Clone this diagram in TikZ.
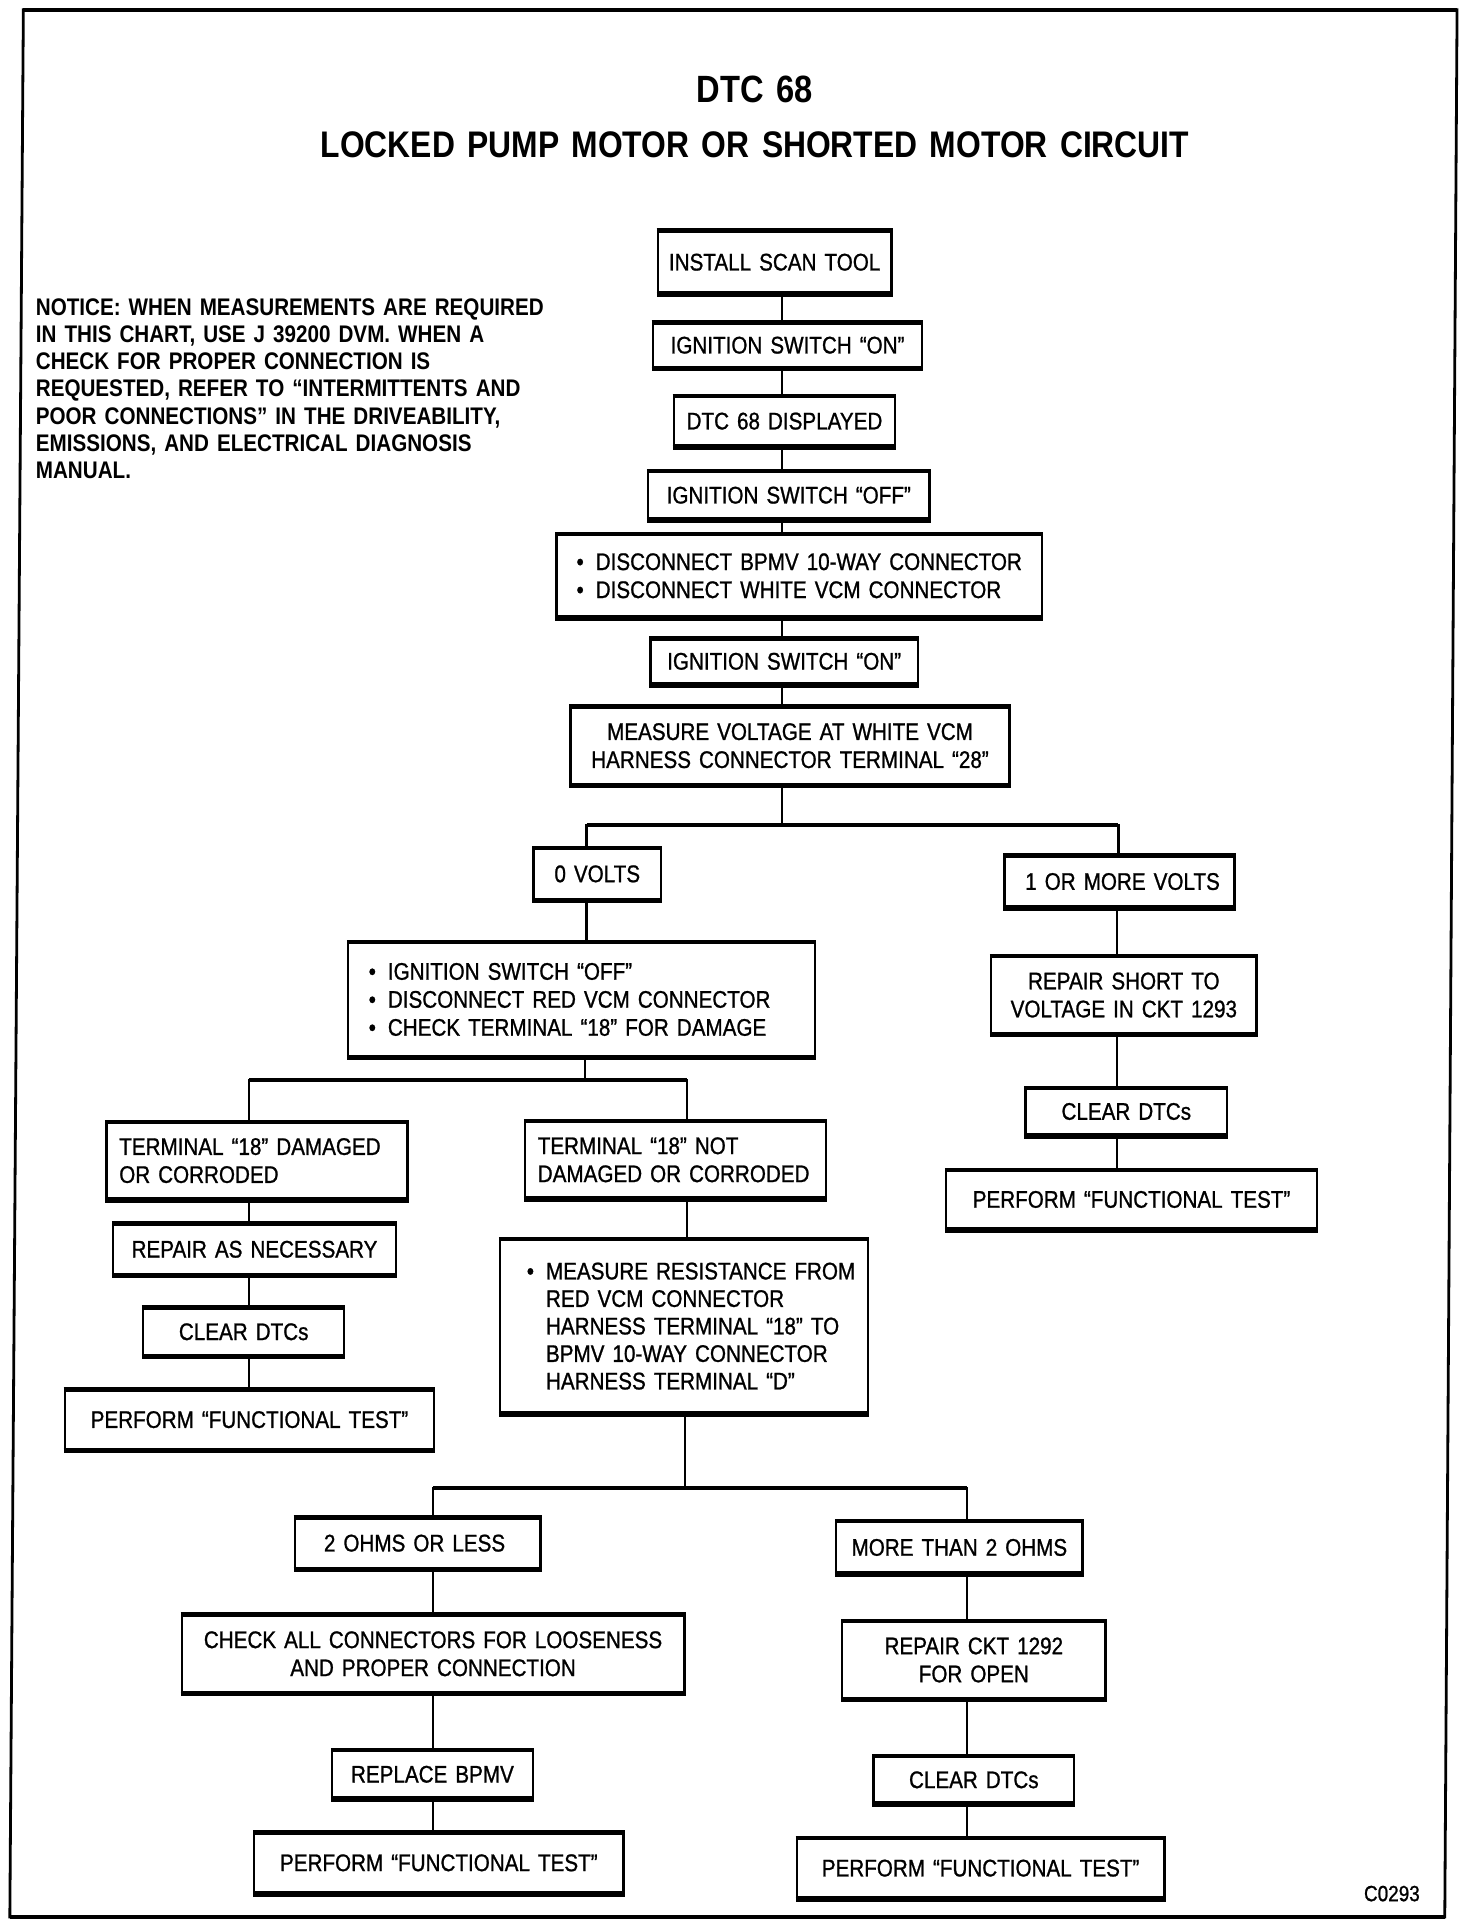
\documentclass[tikz,border=0pt]{standalone}
\usepackage{fontspec}
\setmainfont{Liberation Sans}[FakeStretch=0.86,WordSpace=1.4,UprightFeatures={FakeBold=1}]
\usetikzlibrary{fit}
\newcommand\bl{\makebox[0.8em][l]{•}}
\newcommand\bi{\makebox[0.8em]{}}
\begin{document}
\begin{tikzpicture}[x=1.22974pt, y=-1.22974pt,
  box/.style={draw, line width=2.4pt, inner sep=0pt},
  txt/.style={inner sep=0pt, font=\fontsize{24}{28}\selectfont, align=center},
  ltxt/.style={txt, align=left},
  conn/.style={line width=2.4pt},
  bar/.style={line width=4.4pt},
  bot/.style={line width=4.8pt},
  topl/.style={line width=3.4pt}]
\useasboundingbox (0,0) rectangle (1197,1568);
% frame
\draw[line width=2.8pt, line join=miter] (19,8) -- (1185,8) -- (1175,1559) -- (8,1559) -- cycle;
\draw[line width=4pt] (19,8) -- (1185,8);
\draw[line width=4pt] (1175,1559) -- (8,1559);
% titles
\node[font=\bfseries\fontsize{38}{40}\selectfont, inner sep=0pt] (title1) at (614,72.5) {DTC 68};
\node[font=\bfseries\fontsize{37}{40}\selectfont, inner sep=0pt] (title2) at (614,118) {LOCKED PUMP MOTOR OR SHORTED MOTOR CIRCUIT};
% notice
\node[anchor=north west, inner sep=0pt, align=left, font=\bfseries\fontsize{24}{27.2}\selectfont] (notice) at (29,242.6)
 {NOTICE: WHEN MEASUREMENTS ARE REQUIRED\\
  IN THIS CHART, USE J 39200 DVM. WHEN A\\
  CHECK FOR PROPER CONNECTION IS\\
  REQUESTED, REFER TO “INTERMITTENTS AND\\
  POOR CONNECTIONS” IN THE DRIVEABILITY,\\
  EMISSIONS, AND ELECTRICAL DIAGNOSIS\\
  MANUAL.};
% boxes
\node[box, fit={(535,188.5) (725,238)}] (b1) {};
\node[box, fit={(531,263) (750,298.5)}] (b2) {};
\node[box, fit={(548,323) (728,362)}] (b3) {};
\node[box, fit={(527,384) (756,421.5)}] (b4) {};
\node[box, fit={(452.5,435) (847.5,501.5)}] (b5) {};
\node[box, fit={(529,520) (746.5,555.7)}] (b6) {};
\node[box, fit={(464,575.4) (821,637.5)}] (b7) {};
\node[box, fit={(434,690.4) (537.5,731)}] (b8) {};
\node[box, fit={(817,696.6) (1004,737.3)}] (b9) {};
\node[box, fit={(283,767) (663,858.7)}] (b10) {};
\node[box, fit={(86.5,913.4) (331.5,974.4)}] (b11) {};
\node[box, fit={(427,912.6) (672,973.9)}] (b12) {};
\node[box, fit={(92,996) (322,1036)}] (b13) {};
\node[box, fit={(116.4,1064.4) (280,1101.8)}] (b14) {};
\node[box, fit={(52.8,1130.8) (353,1178.3)}] (b15) {};
\node[box, fit={(406.6,1008.3) (706,1148.7)}] (b16) {};
\node[box, fit={(239.7,1235) (439.5,1275)}] (b17) {};
\node[box, fit={(680,1238) (880.5,1279)}] (b18) {};
\node[box, fit={(147.8,1314) (556.6,1376)}] (b19) {};
\node[box, fit={(685,1319) (899,1381)}] (b20) {};
\node[box, fit={(270,1424) (433.4,1462)}] (b21) {};
\node[box, fit={(710.5,1429) (873.5,1466)}] (b22) {};
\node[box, fit={(206.8,1491) (507,1539)}] (b23) {};
\node[box, fit={(648,1495.6) (947,1543)}] (b24) {};
\node[box, fit={(806,778.5) (1022,840)}] (b25) {};
\node[box, fit={(834,885.5) (998,922.4)}] (b26) {};
\node[box, fit={(769.5,952.2) (1071,998.8)}] (b27) {};
% texts
\node[txt] (t1) at (b1.center) {INSTALL SCAN TOOL};
\node[txt] (t2) at (b2.center) {IGNITION SWITCH “ON”};
\node[txt] (t3) at (b3.center) {DTC 68 DISPLAYED};
\node[txt] (t4) at (b4.center) {IGNITION SWITCH “OFF”};
\node[ltxt] (t5) at (b5.center) {\bl DISCONNECT BPMV 10-WAY CONNECTOR\\ \bl DISCONNECT WHITE VCM CONNECTOR};
\node[txt] (t6) at (b6.center) {IGNITION SWITCH “ON”};
\node[txt] (t7) at (b7.center) {MEASURE VOLTAGE AT WHITE VCM\\ HARNESS CONNECTOR TERMINAL “28”};
\node[txt] (t8) at (b8.center) {0 VOLTS};
\node[txt] (t9) at ([xshift=3pt]b9.center) {1 OR MORE VOLTS};
\node[ltxt] (t10) at ([xshift=-12pt]b10.center) {\bl IGNITION SWITCH “OFF”\\ \bl DISCONNECT RED VCM CONNECTOR\\ \bl CHECK TERMINAL “18” FOR DAMAGE};
\node[ltxt] (t11) at ([xshift=-7pt]b11.center) {TERMINAL “18” DAMAGED\\ OR CORRODED};
\node[ltxt] (t12) at ([xshift=-2pt]b12.center) {TERMINAL “18” NOT\\ DAMAGED OR CORRODED};
\node[txt] (t13) at (b13.center) {REPAIR AS NECESSARY};
\node[txt] (t14) at (b14.center) {CLEAR DTCs};
\node[txt] (t15) at (b15.center) {PERFORM “FUNCTIONAL TEST”};
\node[ltxt, font=\fontsize{24}{27.5}\selectfont] (t16) at ([xshift=7pt]b16.center) {\bl MEASURE RESISTANCE FROM\\ \bi RED VCM CONNECTOR\\ \bi HARNESS TERMINAL “18” TO\\ \bi BPMV 10-WAY CONNECTOR\\ \bi HARNESS TERMINAL “D”};
\node[txt] (t17) at ([xshift=-3pt]b17.center) {2 OHMS OR LESS};
\node[txt] (t18) at (b18.center) {MORE THAN 2 OHMS};
\node[txt] (t19) at (b19.center) {CHECK ALL CONNECTORS FOR LOOSENESS\\ AND PROPER CONNECTION};
\node[txt] (t20) at (b20.center) {REPAIR CKT 1292\\ FOR OPEN};
\node[txt] (t21) at (b21.center) {REPLACE BPMV};
\node[txt] (t22) at (b22.center) {CLEAR DTCs};
\node[txt] (t23) at (b23.center) {PERFORM “FUNCTIONAL TEST”};
\node[txt] (t24) at (b24.center) {PERFORM “FUNCTIONAL TEST”};
\node[txt] (t25) at (b25.center) {REPAIR SHORT TO\\ VOLTAGE IN CKT 1293};
\node[txt] (t26) at (b26.center) {CLEAR DTCs};
\node[txt] (t27) at (b27.center) {PERFORM “FUNCTIONAL TEST”};
\node[inner sep=0pt, font=\fontsize{22}{24}\selectfont] (code) at (1132,1540) {C0293};
% thick top and bottom edges
\foreach \n in {b1,b2,b3,b4,b5,b6,b7,b8,b9,b10,b11,b12,b13,b14,b15,b16,b17,b18,b19,b20,b21,b22,b23,b24,b25,b26,b27}{
  \draw[bot] ([yshift=-0.8pt]\n.south west) -- ([yshift=-0.8pt]\n.south east);
  \draw[topl] ([yshift=0.4pt]\n.north west) -- ([yshift=0.4pt]\n.north east);
}
% connectors: main trunk
\coordinate (tm) at (636,0);
\draw[conn] (b1.south -| tm) -- (b2.north -| tm);
\draw[conn] (b2.south -| tm) -- (b3.north -| tm);
\draw[conn] (b3.south -| tm) -- (b4.north -| tm);
\draw[conn] (b4.south -| tm) -- (b5.north -| tm);
\draw[conn] (b5.south -| tm) -- (b6.north -| tm);
\draw[conn] (b6.south -| tm) -- (b7.north -| tm);
\coordinate (j1) at (636,671);
\coordinate (j1l) at (477,671);
\coordinate (j1r) at (909.5,671);
\draw[conn] (b7.south -| tm) -- (j1);
\draw[conn, line join=miter] (b8.north -| j1l) -- (j1l) -- (j1r) -- (b9.north -| j1r);
\draw[bar] (j1l) -- (j1r);
\draw[conn] (b8.south -| j1l) -- (b10.north -| j1l);
\coordinate (rc) at (908.5,0);
\draw[conn] (b9.south -| rc) -- (b25.north -| rc);
\draw[conn] (b25.south -| rc) -- (b26.north -| rc);
\draw[conn] (b26.south -| rc) -- (b27.north -| rc);
% branch 2
\coordinate (j2) at (476,878.2);
\coordinate (j2l) at (202.5,878.2);
\coordinate (j2r) at (558.5,878.2);
\draw[conn] (b10.south -| j2) -- (j2);
\draw[conn, line join=miter] (b11.north -| j2l) -- (j2l) -- (j2r) -- (b12.north -| j2r);
\draw[bar] (j2l) -- (j2r);
\draw[conn] (b11.south -| j2l) -- (b13.north -| j2l);
\draw[conn] (b13.south -| j2l) -- (b14.north -| j2l);
\draw[conn] (b14.south -| j2l) -- (b15.north -| j2l);
\draw[conn] (b12.south -| j2r) -- (b16.north -| j2r);
% branch 3
\coordinate (j3) at (557,1210);
\coordinate (j3l) at (352,1210);
\coordinate (j3r) at (786.5,1210);
\draw[conn] (b16.south -| j3) -- (j3);
\draw[conn, line join=miter] (b17.north -| j3l) -- (j3l) -- (j3r) -- (b18.north -| j3r);
\draw[bar] (j3l) -- (j3r);
\draw[conn] (b17.south -| j3l) -- (b19.north -| j3l);
\draw[conn] (b19.south -| j3l) -- (b21.north -| j3l);
\draw[conn] (b21.south -| j3l) -- (b23.north -| j3l);
\draw[conn] (b18.south -| j3r) -- (b20.north -| j3r);
\draw[conn] (b20.south -| j3r) -- (b22.north -| j3r);
\draw[conn] (b22.south -| j3r) -- (b24.north -| j3r);
\end{tikzpicture}
\end{document}
